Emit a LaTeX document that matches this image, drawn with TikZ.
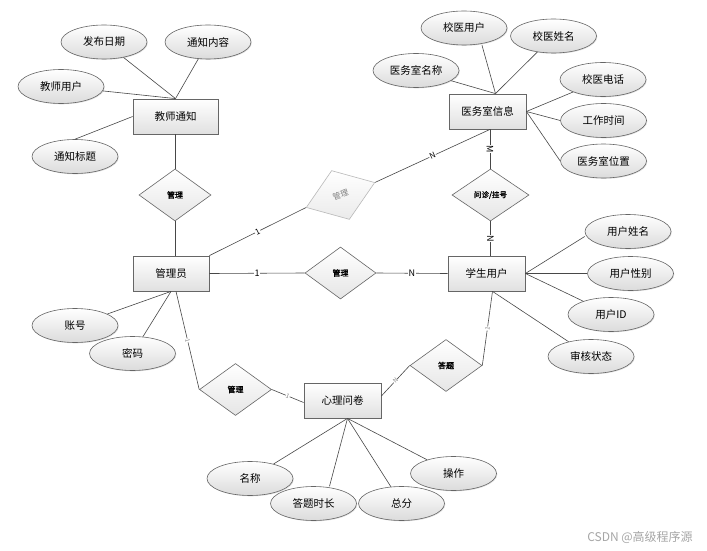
\documentclass[tikz,border=0pt]{standalone}
\usepackage{fontspec}
\setmainfont{Noto Sans CJK SC}[AutoFakeBold=1.5]
\usetikzlibrary{shapes.geometric,shadows,calc}
\begin{document}
\begin{tikzpicture}[x=1pt,y=-1pt,
  conn/.style={draw=black!72, line width=0.6pt},
  ent/.style={rectangle, draw=black!60, line width=0.8pt, top color=white, bottom color=black!12,
    minimum height=35pt, minimum width=77pt, inner sep=0pt, font=\fontsize{10.5}{12}\selectfont,
    drop shadow={shadow xshift=1pt, shadow yshift=-1pt, opacity=0.35, fill=black!50}},
  attr/.style={ellipse, draw=black!60, line width=0.6pt, top color=white, bottom color=black!14,
    minimum width=86pt, minimum height=34pt, inner sep=0pt, font=\fontsize{10.5}{12}\selectfont,
    drop shadow={shadow xshift=0.8pt, shadow yshift=-0.8pt, opacity=0.25, fill=black!50}},
  rel/.style={diamond, draw=black!60, line width=0.6pt, top color=white, bottom color=black!10,
    minimum width=72pt, minimum height=52pt, inner sep=0pt, font=\fontsize{8}{9}\selectfont\bfseries},
  card/.style={fill=white, inner sep=0.6pt, font=\fontsize{9}{10}\selectfont},
  tinylab/.style={fill=white, inner sep=0.3pt, font=\fontsize{6}{7}\selectfont, text=black!50, sloped},
]
\useasboundingbox (0,0) rectangle (707,551);
\fill[white] (0,0) rectangle (707,551);

% entities
\node[ent, minimum width=85pt] (tn) at (175.5,116.5) {教师通知};
\node[ent, minimum width=76pt] (gly) at (171,273.5) {管理员};
\node[ent] (yw) at (487.5,111.5) {医务室信息};
\node[ent] (xs) at (486.5,273.5) {学生用户};
\node[ent] (xl) at (342.5,400.5) {心理问卷};

% relationships
\node[rel] (dm1) at (175,195) {管理};
\node[rel, minimum width=73pt, rotate=20, draw=black!28, bottom color=black!8, text=black!50,
  font=\fontsize{8}{9}\selectfont] (dmf) at (340.5,195) {管理};
\node[rel, minimum width=71pt] (dm2) at (340.5,273) {管理};
\node[rel, minimum width=77pt, font=\fontsize{7.5}{9}\selectfont\bfseries] (wz) at (490.5,195) {问诊/挂号};
\node[rel] (da) at (446,365.5) {答题};
\node[rel] (dm3) at (235.5,389.5) {管理};

% attributes
\node[attr] (fbrq) at (104,42) {发布日期};
\node[attr] (tznr) at (208,42) {通知内容};
\node[attr] (jsyh) at (61,86.5) {教师用户};
\node[attr] (tzbt) at (75,156.5) {通知标题};
\node[attr] (xyyh) at (464,28) {校医用户};
\node[attr] (xyxm) at (553.5,36) {校医姓名};
\node[attr] (ywmc) at (416,70.5) {医务室名称};
\node[attr] (xydh) at (603,79.5) {校医电话};
\node[attr] (gzsj) at (603.5,120.5) {工作时间};
\node[attr] (ywwz) at (603.5,161) {医务室位置};
\node[attr] (yhxm) at (628,231.5) {用户姓名};
\node[attr] (yhxb) at (630.5,273.5) {用户性别};
\node[attr] (yhid) at (611,314.5) {用户ID};
\node[attr] (shzt) at (591,356.5) {审核状态};
\node[attr] (zh) at (75,325.5) {账号};
\node[attr] (mm) at (132.5,353.5) {密码};
\node[attr] (mc) at (250,478.5) {名称};
\node[attr] (dtsc) at (313.5,503.5) {答题时长};
\node[attr] (zf) at (401.5,503.5) {总分};
\node[attr] (cz) at (453.5,473.5) {操作};

% helper coordinates
\coordinate (ywt) at ($(yw.north)+(8,0)$);
\coordinate (ywb) at ($(yw.south)+(2.5,0)$);
\coordinate (xlb) at ($(xl.south)+(5,0)$);

% attribute connectors
\draw[conn] (fbrq) -- (tn.north);
\draw[conn] (tznr) -- (tn.north);
\draw[conn] (jsyh) -- (tn.north);
\draw[conn] (tzbt.north) -- (tn.west);
\draw[conn] (ywmc) -- (ywt);
\draw[conn] ($(xyyh.south)+(18,0)$) -- (ywt);
\draw[conn] (xyxm) -- (ywt);
\draw[conn] (xydh) -- (yw.east);
\draw[conn] (gzsj.west) -- (yw.east);
\draw[conn] (ywwz.west) -- (yw.east);
\draw[conn] ($(yhxm.west)+(0,5)$) -- (xs.east);
\draw[conn] (yhxb.west) -- (xs.east);
\draw[conn] (yhid) -- (xs.east);
\draw[conn] (shzt) -- ($(xs.south)+(6,0)$);
\draw[conn] (zh) -- (gly.south);
\draw[conn] (mm) -- (gly.south);
\draw[conn] (mc) -- (xlb);
\draw[conn] ($(dtsc.north)+(16,0)$) -- (xlb);
\draw[conn] (zf) -- (xlb);
\draw[conn] (cz) -- (xlb);

% relationship connectors
\draw[conn] (dm1.north |- tn.south) -- (dm1.north);
\draw[conn] (dm1.south) -- (dm1.south |- gly.north);
\draw[conn] (gly.north east) -- node[card, sloped, font=\fontsize{8}{9}\selectfont] {1} (dmf.west);
\draw[conn] (dmf.east) -- node[card, sloped, font=\fontsize{8}{9}\selectfont] {N} (ywb);
\draw[conn] (ywb) -- node[card, rotate=-90] {M} (ywb |- wz.north);
\draw[conn] (wz.south) -- node[card, rotate=-90] {N} (wz.south |- xs.north);
\draw[conn] (gly.east) -- node[card] {1} (dm2.west);
\draw[conn] (dm2.east) -- node[card] {N} (xs.west);
\draw[conn] ($(gly.south)+(5,0)$) -- node[tinylab] {1} (dm3.west);
\draw[conn] (dm3.east) -- node[tinylab] {1} ($(xl.west)+(0,2)$);
\draw[conn] ($(xs.south)+(6,0)$) -- node[tinylab] {1} (da.east);
\draw[conn] (da.west) -- node[tinylab] {N} ($(xl.east)+(0,-4.5)$);

% watermark
\node[text=black!35, font=\fontsize{12}{14}\selectfont] (wm) at (640,537) {CSDN @高级程序源};
\end{tikzpicture}
\end{document}
